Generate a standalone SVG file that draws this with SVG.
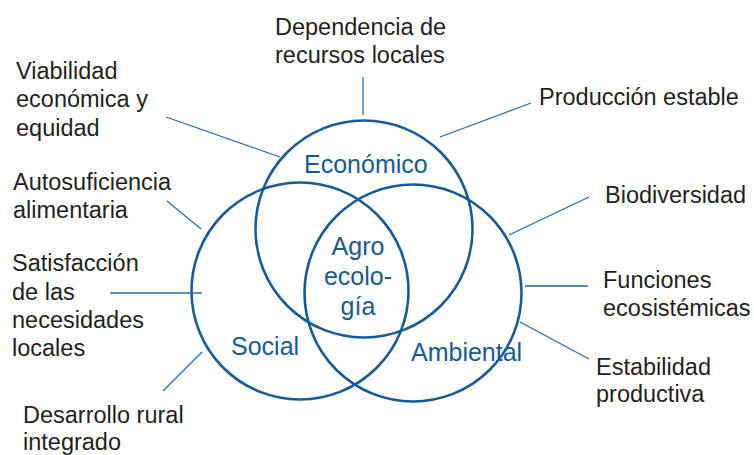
<svg xmlns="http://www.w3.org/2000/svg" width="754" height="455" viewBox="0 0 754 455">
<style>
.c{fill:none;stroke:#175a98;stroke-width:2.6}
.l{stroke:#2a6aa6;stroke-width:1.3;fill:none}
.t{font-family:"Liberation Sans",Arial,sans-serif;font-size:23.5px;fill:#231f20}
.b{font-family:"Liberation Sans",Arial,sans-serif;font-size:25px;fill:#175a98}
</style>
<rect width="754" height="455" fill="#ffffff"/>
<g id="circles">
<g id="economico"><circle class="c" cx="364" cy="229" r="108.5"/><text class="b" x="304" y="173">Económico</text></g>
<g id="social"><circle class="c" cx="300" cy="291" r="108.5"/><text class="b" x="231" y="355">Social</text></g>
<g id="ambiental"><circle class="c" cx="413" cy="293" r="108.5"/><text class="b" x="411" y="361">Ambiental</text></g>
<g id="agroecologia"><text class="b" text-anchor="middle"><tspan x="358" y="255">Agro</tspan><tspan x="358" y="285">ecolo-</tspan><tspan x="358" y="315">gía</tspan></text></g>
</g>
<g id="connectors">
<line class="l" x1="363" y1="77" x2="363" y2="115"/>
<line class="l" x1="166" y1="117" x2="280" y2="157"/>
<line class="l" x1="167" y1="201" x2="201" y2="229"/>
<line class="l" x1="110" y1="293" x2="202" y2="293"/>
<line class="l" x1="163" y1="391" x2="202" y2="352"/>
<line class="l" x1="531" y1="103" x2="440" y2="137"/>
<line class="l" x1="589" y1="197" x2="509" y2="235"/>
<line class="l" x1="525" y1="286" x2="588" y2="286"/>
<line class="l" x1="520" y1="322" x2="589" y2="359"/>
</g>
<g id="n-dependencia"><text class="t"><tspan x="275" y="35">Dependencia de</tspan><tspan x="275" y="63">recursos locales</tspan></text></g>
<g id="n-viabilidad"><text class="t"><tspan x="16" y="79">Viabilidad</tspan><tspan x="16" y="107">económica y</tspan><tspan x="16" y="135.5">equidad</tspan></text></g>
<g id="n-autosuficiencia"><text class="t"><tspan x="13" y="190">Autosuficiencia</tspan><tspan x="13" y="218">alimentaria</tspan></text></g>
<g id="n-satisfaccion"><text class="t"><tspan x="12" y="271">Satisfacción</tspan><tspan x="12" y="299.5">de las</tspan><tspan x="12" y="328">necesidades</tspan><tspan x="12" y="356">locales</tspan></text></g>
<g id="n-desarrollo"><text class="t"><tspan x="23" y="423">Desarrollo rural</tspan><tspan x="23" y="450">integrado</tspan></text></g>
<g id="n-produccion"><text class="t" x="539" y="105">Producción estable</text></g>
<g id="n-biodiversidad"><text class="t" x="605" y="203">Biodiversidad</text></g>
<g id="n-funciones"><text class="t"><tspan x="603" y="288">Funciones</tspan><tspan x="603" y="316">ecosistémicas</tspan></text></g>
<g id="n-estabilidad"><text class="t"><tspan x="596" y="375">Estabilidad</tspan><tspan x="596" y="402">productiva</tspan></text></g>
</svg>
